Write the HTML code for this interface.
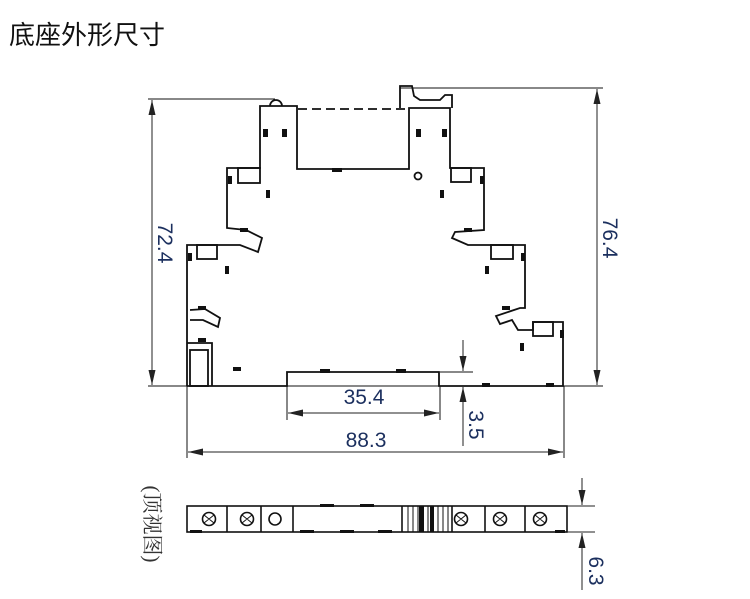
<!DOCTYPE html>
<html><head><meta charset="utf-8"><style>
body{margin:0;background:#fff;width:750px;height:594px;overflow:hidden}
</style></head><body>
<svg width="750" height="594" viewBox="0 0 750 594" xmlns="http://www.w3.org/2000/svg">
<defs>
<marker id="a" viewBox="0 0 10 10" refX="10" refY="5" markerWidth="15" markerHeight="7" orient="auto-start-reverse" markerUnits="userSpaceOnUse" preserveAspectRatio="none"><path d="M0,0 L10,5 L0,10 z" fill="#222"/></marker>
</defs>
<text x="9" y="44" font-family="Liberation Sans, Noto Sans CJK SC, sans-serif" font-size="26" fill="#111">底座外形尺寸</text>

<g fill="none" stroke="#111" stroke-width="1.8">
<polyline points="187,386 287,386 287,372 439,372 439,386 563,386 563,322 533,322 533,330 518,330 512,320 500,324 496,316 520,308 525,308 525,245 475,245 468,245 452,238 455,232 484,230 484,168 450,168 450,108 409,108 409,169 297,169 297,106 260,106 260,168 227,168 227,228 246,230 262,238 258,252 240,245 187,245 187,386"/>
<polyline points="190,310 205,309 220,318 218,327 203,320 190,320"/>
<polyline points="187,343 212,343 212,386"/>
<rect x="190" y="350" width="18" height="36"/>
<path d="M270,106 a6,6 0 0 1 12,0"/>
<polyline points="400,108 400,86 412,86 414,96 420,100 440,100 445,95 452,95 452,108"/>
<rect x="238" y="168" width="22" height="15"/>
<rect x="197" y="245" width="20" height="14"/>
<rect x="533" y="322" width="20" height="14"/>
<rect x="451" y="168" width="20" height="14"/>
<rect x="491" y="245" width="22" height="14"/>
<circle cx="418" cy="176" r="3.5"/>
<line x1="148" y1="99" x2="275" y2="99" stroke-width="1"/>
<line x1="148" y1="386" x2="603" y2="386" stroke-width="1"/>
<line x1="400" y1="88" x2="603" y2="88" stroke-width="1"/>
<line x1="440" y1="372" x2="473" y2="372" stroke-width="1"/>
<line x1="287" y1="386" x2="287" y2="420" stroke-width="1"/>
<line x1="440" y1="386" x2="440" y2="420" stroke-width="1"/>
<line x1="187" y1="386" x2="187" y2="458" stroke-width="1"/>
<line x1="564" y1="386" x2="564" y2="458" stroke-width="1"/>
</g>
<g fill="#111">
<rect x="263" y="129" width="5" height="8"/><rect x="282" y="129" width="5" height="8"/>
<rect x="416" y="129" width="5" height="8"/><rect x="442" y="129" width="5" height="8"/>
<rect x="228" y="176" width="4" height="8"/><rect x="266" y="190" width="4" height="8"/>
<rect x="440" y="190" width="4" height="8"/><rect x="480" y="176" width="4" height="8"/>
<rect x="240" y="228" width="8" height="4"/><rect x="464" y="228" width="8" height="4"/>
<rect x="188" y="253" width="4" height="8"/><rect x="225" y="266" width="4" height="8"/>
<rect x="485" y="266" width="4" height="8"/><rect x="521" y="253" width="4" height="8"/>
<rect x="198" y="306" width="8" height="4"/><rect x="502" y="306" width="8" height="4"/>
<rect x="198" y="338" width="8" height="4"/><rect x="233" y="367" width="8" height="4"/>
<rect x="520" y="343" width="4" height="8"/><rect x="560" y="330" width="4" height="8"/>
<rect x="320" y="369" width="10" height="4"/><rect x="396" y="369" width="10" height="4"/>
<rect x="332" y="168" width="10" height="4"/>
<rect x="482" y="383" width="8" height="4"/><rect x="546" y="383" width="8" height="4"/>
</g>
<line x1="298" y1="109" x2="408" y2="109" stroke="#111" stroke-width="1.8" stroke-dasharray="9,5"/>
<g stroke="#222" stroke-width="1" fill="none">
<line x1="152" y1="100" x2="152" y2="385" marker-start="url(#a)" marker-end="url(#a)"/>
<line x1="597" y1="89" x2="597" y2="385" marker-start="url(#a)" marker-end="url(#a)"/>
<line x1="288" y1="413" x2="439" y2="413" marker-start="url(#a)" marker-end="url(#a)"/>
<line x1="188" y1="452" x2="563" y2="452" marker-start="url(#a)" marker-end="url(#a)"/>
<line x1="463" y1="340" x2="463" y2="371" marker-end="url(#a)"/>
<line x1="463" y1="446" x2="463" y2="387" marker-end="url(#a)"/>
</g>
<g font-family="Liberation Sans, sans-serif" font-size="21" fill="#1b2f5e">
<text x="364" y="404" text-anchor="middle">35.4</text>
<text x="366" y="447" text-anchor="middle">88.3</text>
<text transform="translate(158,243) rotate(90)" text-anchor="middle">72.4</text>
<text transform="translate(603,238) rotate(90)" text-anchor="middle">76.4</text>
<text transform="translate(469,425) rotate(90)" text-anchor="middle">3.5</text>
<text transform="translate(589,571) rotate(90)" text-anchor="middle">6.3</text>
</g>
<text transform="translate(145,524) rotate(90)" text-anchor="middle" font-family="Liberation Serif, Noto Serif CJK SC, serif" font-size="21" fill="#333">(顶视图)</text>

<g stroke="#111" stroke-width="1.6" fill="none">
<rect x="187" y="506" width="380" height="26"/>
<line x1="227" y1="506" x2="227" y2="532"/><line x1="261" y1="506" x2="261" y2="532"/>
<line x1="293" y1="506" x2="293" y2="532"/><line x1="402" y1="506" x2="402" y2="532"/>
<line x1="452" y1="506" x2="452" y2="532"/><line x1="485" y1="506" x2="485" y2="532"/>
<line x1="525" y1="506" x2="525" y2="532"/>
<circle cx="275" cy="519" r="6"/>
<circle cx="209" cy="519" r="6.5"/><circle cx="247" cy="519" r="6.5"/>
<circle cx="461" cy="519" r="6.5"/><circle cx="500" cy="519" r="6.5"/><circle cx="540" cy="519" r="6.5"/>
</g>
<g stroke="#111" stroke-width="1">
<path d="M204,515 l10,8 M204,523 l10,-8 M242,515 l10,8 M242,523 l10,-8 M456,515 l10,8 M456,523 l10,-8 M495,515 l10,8 M495,523 l10,-8 M535,515 l10,8 M535,523 l10,-8"/>
<path d="M408,506v26M413,506v26M418,506v26M423,506v26M428,506v26M433,506v26M438,506v26M443,506v26M448,506v26"/>
</g>
<g fill="#111">
<rect x="419" y="506" width="5" height="26"/><rect x="430" y="506" width="4" height="26"/>
<rect x="320" y="504" width="14" height="3"/><rect x="340" y="530" width="14" height="3"/><rect x="360" y="504" width="14" height="3"/><rect x="378" y="530" width="14" height="3"/>
<rect x="300" y="530" width="14" height="3"/><rect x="190" y="530" width="12" height="3"/><rect x="555" y="530" width="10" height="3"/>
</g>
<g stroke="#222" stroke-width="1" fill="none">
<line x1="567" y1="506" x2="595" y2="506"/><line x1="567" y1="532" x2="595" y2="532"/>
<line x1="582" y1="478" x2="582" y2="505" marker-end="url(#a)"/>
<line x1="582" y1="590" x2="582" y2="533" marker-end="url(#a)"/>
</g>
</svg>
</body></html>
